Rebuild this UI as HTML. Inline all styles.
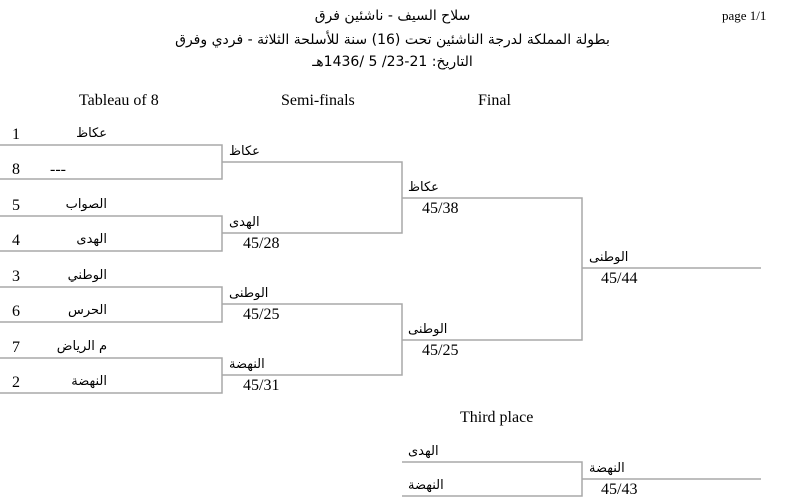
<!DOCTYPE html>
<html><head><meta charset="utf-8"><style>
body{margin:0;width:785px;height:504px;background:#fff;position:relative;overflow:hidden;font-family:"Liberation Serif",serif;color:#000}
.t{position:absolute;font-size:16px;line-height:18px;white-space:nowrap}
.h{position:absolute;font-size:16px;line-height:18px;white-space:nowrap}
.a{position:absolute;font-family:"DejaVu Sans","Liberation Sans",sans-serif;font-size:13px;line-height:16px;white-space:nowrap;direction:rtl}
.c{position:absolute;left:0;width:785px;text-align:center;font-family:"DejaVu Sans","Liberation Sans",sans-serif;direction:rtl;white-space:nowrap}
svg{position:absolute;left:0;top:0}
</style></head><body>
<svg width="785" height="504"><g stroke="#a8a8a8" stroke-width="1.5" fill="none">
<path d="M0 145H222V179H0M0 216H222V251H0M0 287H222V322H0M0 358H222V393H0"/>
<path d="M222 162H402V233H222M222 304H402V375H222"/>
<path d="M402 198H582V340H402M582 268H761"/>
<path d="M402 462H582V496H402M582 479H761"/>
</g></svg>
<div class="h" style="left:722px;top:7px;font-size:13px">page 1/1</div>
<div class="c" style="top:8px;font-size:14px">سلاح السيف - ناشئين فرق</div>
<div class="c" style="top:32px;font-size:14px">بطولة المملكة لدرجة الناشئين تحت (16) سنة للأسلحة الثلاثة - فردي وفرق</div>
<div class="c" style="top:54px;font-size:14px">التاريخ: 21-23/ 5 /1436هـ</div>
<div class="h" style="left:79px;top:92px">Tableau of 8</div>
<div class="h" style="left:281px;top:92px">Semi-finals</div>
<div class="h" style="left:478px;top:92px">Final</div>
<div class="h" style="left:460px;top:409px">Third place</div>

<div class="t" style="left:12px;top:126px">1</div><div class="a" style="right:678px;top:126px">عكاظ</div>
<div class="t" style="left:12px;top:161px">8</div><div class="t" style="left:50px;top:161px">---</div>
<div class="t" style="left:12px;top:197px">5</div><div class="a" style="right:678px;top:197px">الصواب</div>
<div class="t" style="left:12px;top:232px">4</div><div class="a" style="right:678px;top:232px">الهدى</div>
<div class="t" style="left:12px;top:268px">3</div><div class="a" style="right:678px;top:268px">الوطني</div>
<div class="t" style="left:12px;top:303px">6</div><div class="a" style="right:678px;top:303px">الحرس</div>
<div class="t" style="left:12px;top:339px">7</div><div class="a" style="right:678px;top:339px">م الرياض</div>
<div class="t" style="left:12px;top:374px">2</div><div class="a" style="right:678px;top:374px">النهضة</div>

<div class="a" style="left:229px;top:144px">عكاظ</div>
<div class="a" style="left:229px;top:215px">الهدى</div><div class="t" style="left:243px;top:235px">45/28</div>
<div class="a" style="left:229px;top:286px">الوطنى</div><div class="t" style="left:243px;top:306px">45/25</div>
<div class="a" style="left:229px;top:357px">النهضة</div><div class="t" style="left:243px;top:377px">45/31</div>

<div class="a" style="left:408px;top:180px">عكاظ</div><div class="t" style="left:422px;top:200px">45/38</div>
<div class="a" style="left:408px;top:322px">الوطنى</div><div class="t" style="left:422px;top:342px">45/25</div>

<div class="a" style="left:589px;top:250px">الوطنى</div><div class="t" style="left:601px;top:270px">45/44</div>

<div class="a" style="left:408px;top:444px">الهدى</div>
<div class="a" style="left:408px;top:478px">النهضة</div>
<div class="a" style="left:589px;top:461px">النهضة</div><div class="t" style="left:601px;top:481px">45/43</div>
</body></html>
